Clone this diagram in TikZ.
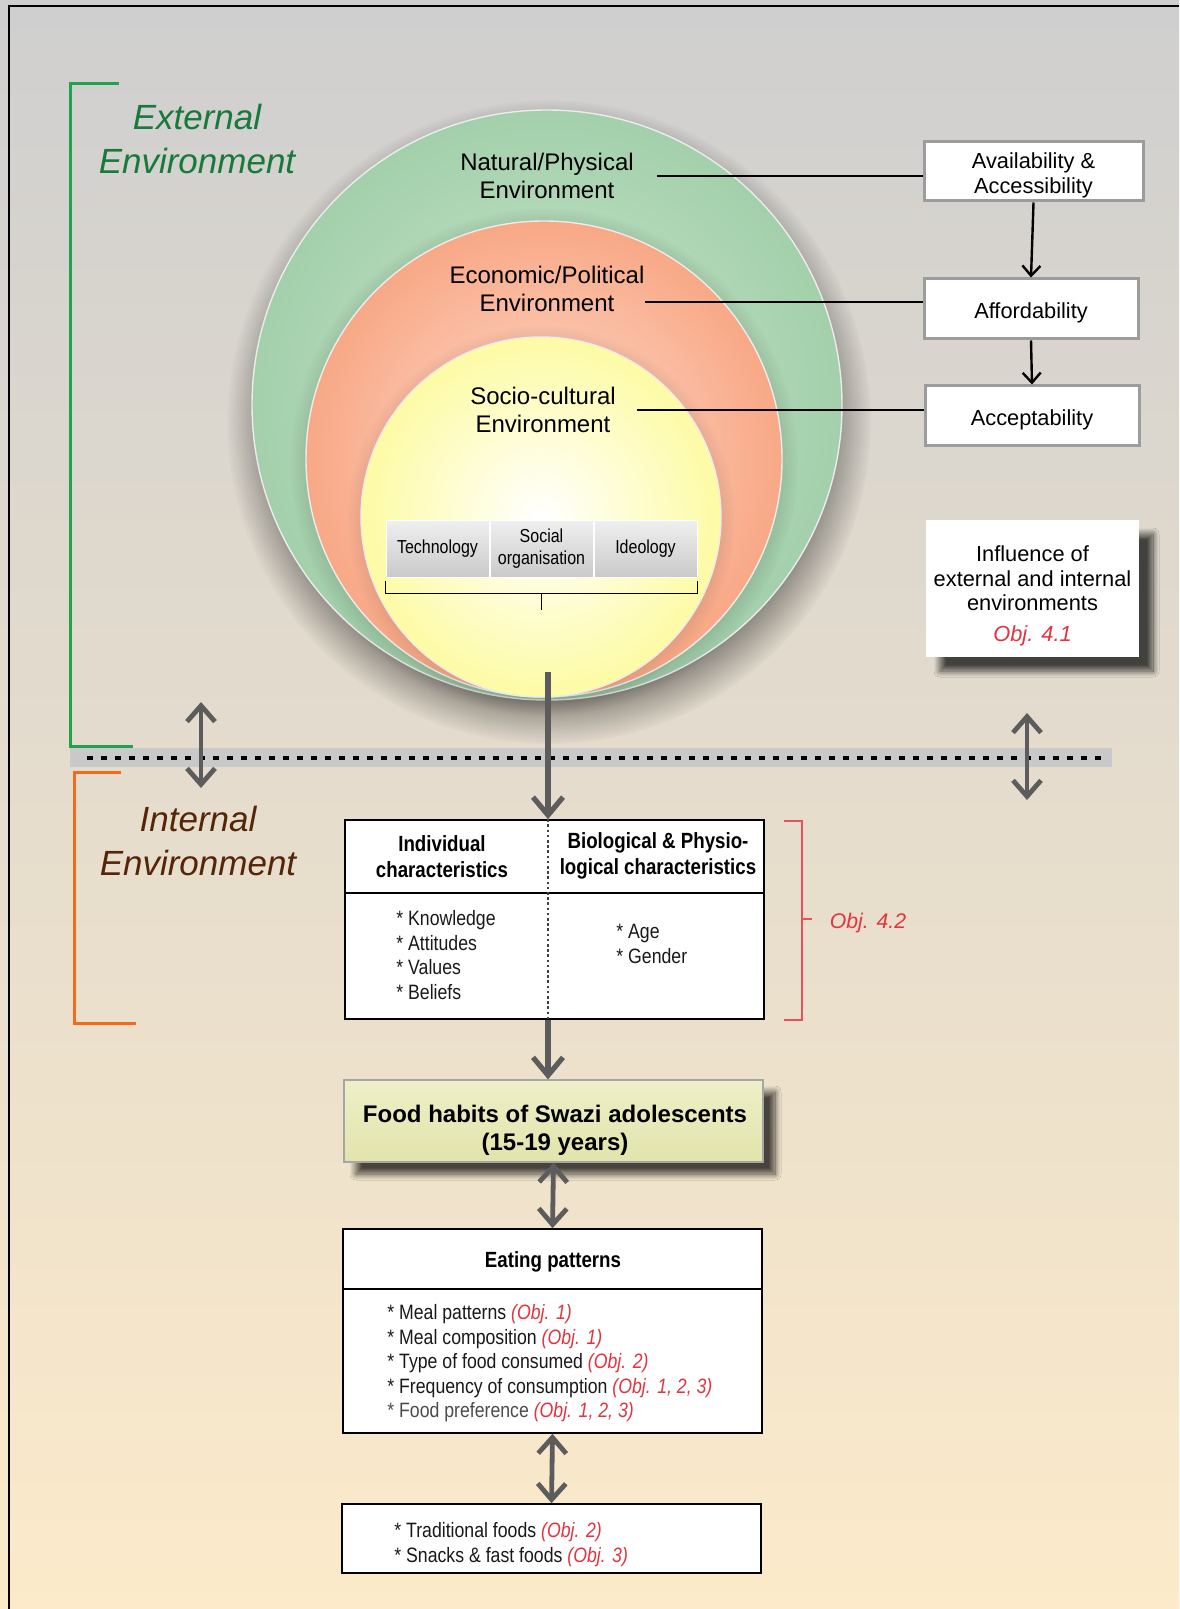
\documentclass[tikz,border=0pt]{standalone}
\usepackage{fontspec}
\setmainfont{Liberation Sans}
\newfontfamily\narrowfont[FakeStretch=0.85]{Liberation Sans}
\usepackage{xcolor}
\usetikzlibrary{arrows.meta,shadows.blur,positioning,fadings}
\definecolor{bgtop}{HTML}{CFCFCF}
\definecolor{bgmid}{HTML}{E5DECF}
\definecolor{bgbot}{HTML}{FCEACA}
\definecolor{envgreen}{HTML}{1FA34E}
\definecolor{envorange}{HTML}{F26A1B}
\definecolor{objred}{HTML}{E2343E}
\definecolor{arrgray}{HTML}{5C5C5C}
\definecolor{boxgray}{HTML}{9C9C9C}
\definecolor{bandgray}{HTML}{C9C9C9}
\definecolor{grnout}{HTML}{A3D0AB}
\definecolor{grnin}{HTML}{CBE6CE}
\definecolor{orgout}{HTML}{F8A886}
\definecolor{orgin}{HTML}{FEDDCF}
\definecolor{yelout}{HTML}{FDFBA4}
\definecolor{foodtop}{HTML}{EEEFC8}
\definecolor{foodbot}{HTML}{E2E4AC}
\newcommand{\objref}[1]{\textcolor{objred}{\itshape(#1)}}
\tikzset{
    RB1/.style ={rectangle, draw=boxgray, line width=1.5pt, fill=white, inner sep=0pt, align=center, text height=12pt, font=\fontsize{10.9}{12.4}\selectfont},
    MB1/.style ={rectangle, draw=black, line width=0.8pt, fill=white, inner sep=0pt, minimum width=209.5pt},
    GC1/.style ={rectangle, draw=white, line width=0.5pt, top color=gray!12, bottom color=gray!42, minimum width=51.5pt, minimum height=28.5pt, inner sep=0pt, align=center, font=\narrowfont\fontsize{9.4}{11}\selectfont},
    EC1/.style ={circle, inner sep=0pt, draw=white!85!gray, line width=0.7pt},
    AR1/.style ={draw=arrgray, line width=2.6pt, -{Straight Barb[length=9pt,width=15pt]}},
    AR2/.style ={draw=arrgray, line width=2.4pt, {Straight Barb[length=8pt,width=14pt]}-{Straight Barb[length=8pt,width=14pt]}},
    LB1/.style ={align=center, font=\fontsize{12}{13.8}\selectfont},
    TX1/.style ={align=left, anchor=north west, inner sep=0pt, text=black!90, font=\narrowfont\fontsize{10.4}{12.3}\selectfont},
    TH1/.style ={align=center, inner sep=0pt, font=\narrowfont\bfseries\fontsize{11}{13}\selectfont},
    SH1/.style ={blur shadow={shadow xshift=#1, shadow yshift=-#1, shadow blur radius=3pt, shadow blur steps=20, shadow opacity=70}}
}

\begin{document}
\begin{tikzpicture}[x=0.5pt,y=-0.5pt]
        \useasboundingbox (0,0) rectangle (1179,1609);
        \shade[top color=bgtop, middle color=bgmid, bottom color=bgbot] (0,0) rectangle (1179,1609);
        \draw[line width=1pt] (9,1609) -- (9,6) -- (1179,6);
        % brackets and labels on the left
        \draw[envgreen, line width=1.5pt] (119,84) -- (70,84) -- (70,746) -- (133,746);
        \draw[envorange, line width=1.5pt] (121,772) -- (74,772) -- (74,1023) -- (136,1023);
        \node[align=center, text=envgreen!75!black, font=\itshape\fontsize{17.5}{22}\selectfont] (extlbl) at (197,139) {External\\Environment};
        \node[align=center, text=envorange!35!black, font=\itshape\fontsize{17.5}{22}\selectfont] (intlbl) at (198,841) {Internal\\Environment};
        % the three environments, each with a soft shadow
        \fill[black, opacity=0.55, path fading=circle with fuzzy edge 20 percent] (549,422) circle (322);
        \node[EC1, minimum size=295pt, inner color=grnin, outer color=grnout] (natcirc) at (547,405) {};
        \fill[black, opacity=0.22, path fading=circle with fuzzy edge 15 percent] (544,462) circle (254);
        \node[EC1, minimum size=238pt, inner color=orgin, outer color=orgout] (ecocirc) at (544,459) {};
        \fill[black, opacity=0.14, path fading=circle with fuzzy edge 15 percent] (541,519) circle (194);
        \node[EC1, minimum size=180pt, inner color=white, outer color=yelout] (soccirc) at (541,517) {};
        \node[LB1] (natlbl) at (547,176) {Natural/Physical\\Environment};
        \node[LB1] (ecolbl) at (547,289) {Economic/Political\\Environment};
        \node[LB1] (soclbl) at (543,410) {Socio-cultural\\Environment};
        \node[GC1] (techcell) at (437.5,548.5) {Technology};
        \node[GC1, right=0pt of techcell] (orgcell) {Social\\organisation};
        \node[GC1, right=0pt of orgcell] (ideocell) {Ideology};
        \draw[line width=0.8pt] ([yshift=-1.5pt]techcell.south west) -- ++(0,13) -| ([yshift=-1.5pt]ideocell.south east);
        \draw[line width=0.6pt] (orgcell.south) ++(0,16) -- ++(0,16);
        % right column
        \node[RB1, minimum width=109.5pt, minimum height=29.5pt, text height=24.5pt] (availbox) at (1033.5,171.5) {Availability \&\\Accessibility};
        \node[RB1, minimum width=107pt, minimum height=30pt] (affbox) at (1031,309) {Affordability};
        \node[RB1, minimum width=107pt, minimum height=29.5pt] (accbox) at (1032,415.5) {Acceptability};
        \draw[line width=1.2pt, shorten <=8pt] (natlbl.east) -- (natlbl.east -| availbox.west);
        \draw[line width=1.2pt] (ecolbl.east) ++(-6,13) coordinate (ecoend) -- (ecoend -| affbox.west);
        \draw[line width=1.2pt, shorten <=7pt] (soclbl.east) -- (soclbl.east -| accbox.west);
        \draw[line width=1.2pt, -{Straight Barb[length=5pt,width=9pt]}] (availbox.south) -- (affbox.north);
        \draw[line width=1.2pt, -{Straight Barb[length=5pt,width=9pt]}] (affbox.south) -- (accbox.north);
        \node[fill=white, inner sep=0pt, minimum width=106.5pt, minimum height=68.5pt, SH1=7pt] (inflbox) at (1032.5,588.5) {};
        \node[align=center, font=\fontsize{10.9}{12.3}\selectfont] (infllbl) at (1032.5,596)
              {Influence of\\external and internal\\environments\\[3pt]\textcolor{objred}{\itshape Obj. 4.1}};
        % border between external and internal
        \fill[bandgray] (70,748) rectangle (1112,767);
        \draw[line width=2pt, dash pattern=on 3pt off 4pt] (87,758) -- (1106,758);
        \coordinate (lefttop) at (201,702);
        \coordinate (leftbot) at (201,788);
        \coordinate (righttop) at (1027,713);
        \coordinate (rightbot) at (1027,800);
        \draw[AR2] (lefttop) -- (leftbot);
        \draw[AR2] (righttop) -- (rightbot);
        % internal environment
        \node[MB1, minimum height=99.5pt] (charbox) at (554.5,919.5) {};
        \draw[line width=0.8pt] (charbox.west |- 0,893) -- (charbox.east |- 0,893);
        \coordinate (arrtop) at (548,672);
        \draw[line width=1.3pt, black!75, dash pattern=on 1.3pt off 1.3pt] (arrtop |- charbox.north) -- (arrtop |- charbox.south);
        \draw[AR1] (arrtop) -- (arrtop |- charbox.north);
        \node[TH1] (indhead) at (442,857) {Individual\\characteristics};
        \node[TH1] (biohead) at (658,856) {Biological \& Physio-\\logical characteristics};
        \node[TX1] (indlist) at (396,910) {* Knowledge\\* Attitudes\\* Values\\* Beliefs};
        \node[TX1] (biolist) at (616,924) {* Age\\* Gender};
        \draw[objred!85, line width=1pt] (784,821) -- (802,821) -- (802,1020) -- (784,1020);
        \draw[objred!85, line width=1pt] (802,919) -- (812,919);
        \node[text=objred, font=\itshape\fontsize{10.6}{13}\selectfont] (objlbl) at (868,923) {Obj. 4.2};
        % food habits and eating patterns
        \node[rectangle, draw=gray!70, line width=0.6pt, top color=foodtop, bottom color=foodbot, minimum width=209.5pt, minimum height=41pt, SH1=6pt] (foodbox) at (553.5,1121) {};
        \node[align=center, font=\bfseries\fontsize{12}{13.8}\selectfont] (foodlbl) at (555,1130.5) {Food habits of Swazi adolescents\\(15-19 years)};
        \draw[AR1] (arrtop |- charbox.south) -- (arrtop |- foodbox.north);
        \node[MB1, minimum height=102pt] (eatbox) at (552.5,1331) {};
        \draw[line width=0.8pt] (eatbox.west |- 0,1289) -- (eatbox.east |- 0,1289);
        \node[TH1] (eathead) at (553,1262) {Eating patterns};
        \node[TX1] (eatlist) at (387,1304) {* Meal patterns \objref{Obj. 1}\\* Meal composition \objref{Obj. 1}\\* Type of food consumed \objref{Obj. 2}\\* Frequency of consumption \objref{Obj. 1, 2, 3}\\\textcolor{black!70}{* Food preference} \objref{Obj. 1, 2, 3}};
        \node[MB1, minimum height=34.5pt] (snackbox) at (551.5,1538.5) {};
        \node[TX1] (snacklist) at (394,1522) {* Traditional foods \objref{Obj. 2}\\* Snacks \& fast foods \objref{Obj. 3}};
        \draw[AR2] (foodbox.south) -- (eatbox.north);
        \draw[AR2] (eatbox.south) -- (snackbox.north);
    \end{tikzpicture}
\end{document}
